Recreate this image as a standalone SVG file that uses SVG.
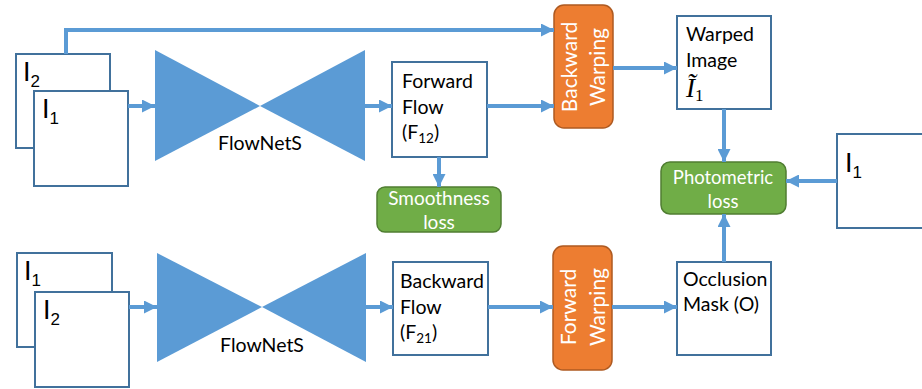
<svg xmlns="http://www.w3.org/2000/svg" width="922" height="389" viewBox="0 0 922 389">
<style>
.box{fill:#fff;stroke:#41719C;stroke-width:2}
.net{fill:#5B9BD5}
.orange{fill:#ED7D31;stroke:#AE5A21;stroke-width:1.5}
.green{fill:#70AD47;stroke:#507E32;stroke-width:1.5}
.t{font-family:Lato,"Open Sans",sans-serif;font-size:19.5px;fill:#000}
.w{font-family:Lato,"Open Sans",sans-serif;fill:#fff}
.big{font-family:"Liberation Sans",Arial,sans-serif;font-size:27px;fill:#000}
.sub{font-size:17px}
.conn{stroke:#5B9BD5;stroke-width:4;fill:none}
</style>
<defs>
<marker id="ah" markerWidth="13" markerHeight="13" refX="13" refY="6.5" orient="auto" markerUnits="userSpaceOnUse"><path d="M0,0 L13,6.5 L0,13 z" fill="#5B9BD5"/></marker>
</defs>

<g id="top-i2"><rect class="box" x="16" y="54" width="94" height="94"/><text class="big" x="23" y="81">I<tspan class="sub" dy="6">2</tspan></text></g>
<g id="top-i1"><rect class="box" x="34" y="91" width="94" height="95"/><text class="big" x="42" y="118">I<tspan class="sub" dy="6">1</tspan></text></g>
<g id="top-flownet"><polygon class="net" points="155,50 260,106 155,161"/><polygon class="net" points="365,50 260,106 365,161"/><text class="t" x="260" y="150" text-anchor="middle" font-size="20.5">FlowNetS</text></g>
<g id="forward-flow"><rect class="box" x="392" y="62" width="95" height="95"/><text class="t" x="402" y="88">Forward</text><text class="t" x="402" y="114">Flow</text><text class="t" x="402" y="139">(F<tspan font-size="13.5" dy="4">12</tspan><tspan dy="-4">)</tspan></text></g>
<g id="smoothness"><rect class="green" x="377" y="187" width="124" height="45" rx="8"/><text class="w" x="439" y="205" text-anchor="middle" font-size="19">Smoothness</text><text class="w" x="439" y="229" text-anchor="middle" font-size="19">loss</text></g>
<g id="backward-warping"><rect class="orange" x="554" y="5" width="59" height="123" rx="10"/><text class="w" font-size="21" text-anchor="middle" transform="translate(577,67) rotate(-90)">Backward</text><text class="w" font-size="21" text-anchor="middle" transform="translate(605,67) rotate(-90)">Warping</text></g>
<g id="warped-image"><rect class="box" x="677" y="16" width="94" height="93"/><text class="t" x="686" y="41">Warped</text><text class="t" x="686" y="67">Image</text><text x="686" y="97" font-family="'Liberation Serif',serif" font-style="italic" font-size="27" fill="#000">Ĩ<tspan font-style="normal" font-size="17" dy="4">1</tspan></text></g>
<g id="photometric"><rect class="green" x="661" y="162" width="125" height="52" rx="9"/><text class="w" x="723" y="184" text-anchor="middle" font-size="18.5">Photometric</text><text class="w" x="723" y="208" text-anchor="middle" font-size="18.5">loss</text></g>
<g id="right-i1"><rect class="box" x="837" y="134" width="95" height="94"/><text class="big" x="845" y="172">I<tspan class="sub" dy="6">1</tspan></text></g>

<g id="bot-i1"><rect class="box" x="17" y="253" width="95" height="94"/><text class="big" x="24" y="280">I<tspan class="sub" dy="6">1</tspan></text></g>
<g id="bot-i2"><rect class="box" x="35" y="292" width="94" height="95"/><text class="big" x="43" y="319">I<tspan class="sub" dy="6">2</tspan></text></g>
<g id="bot-flownet"><polygon class="net" points="157,253 262,307 157,362"/><polygon class="net" points="366,253 262,307 366,362"/><text class="t" x="262" y="352" text-anchor="middle" font-size="20.5">FlowNetS</text></g>
<g id="backward-flow"><rect class="box" x="393" y="262" width="95" height="93"/><text class="t" x="400" y="288">Backward</text><text class="t" x="400" y="314">Flow</text><text class="t" x="400" y="339">(F<tspan font-size="13.5" dy="4">21</tspan><tspan dy="-4">)</tspan></text></g>
<g id="forward-warping"><rect class="orange" x="553" y="246" width="59" height="124" rx="10"/><text class="w" font-size="21" text-anchor="middle" transform="translate(576,307) rotate(-90)">Forward</text><text class="w" font-size="21" text-anchor="middle" transform="translate(605,307) rotate(-90)">Warping</text></g>
<g id="occlusion"><rect class="box" x="677" y="262" width="94" height="93"/><text class="t" x="683" y="286">Occlusion</text><text class="t" x="683" y="311">Mask (O)</text></g>

<g id="connectors">
<path class="conn" d="M66,54 V30 H554" marker-end="url(#ah)"/>
<path class="conn" d="M128,106 H155" marker-end="url(#ah)"/>
<path class="conn" d="M365,106 H392" marker-end="url(#ah)"/>
<path class="conn" d="M487,106 H554" marker-end="url(#ah)"/>
<path class="conn" d="M439,157 V187" marker-end="url(#ah)"/>
<path class="conn" d="M613,68 H677" marker-end="url(#ah)"/>
<path class="conn" d="M724,109 V162" marker-end="url(#ah)"/>
<path class="conn" d="M837,181 H786" marker-end="url(#ah)"/>
<path class="conn" d="M724,262 V214" marker-end="url(#ah)"/>
<path class="conn" d="M129,307 H157" marker-end="url(#ah)"/>
<path class="conn" d="M366,307 H393" marker-end="url(#ah)"/>
<path class="conn" d="M488,307 H553" marker-end="url(#ah)"/>
<path class="conn" d="M612,307 H677" marker-end="url(#ah)"/>
</g>
</svg>
